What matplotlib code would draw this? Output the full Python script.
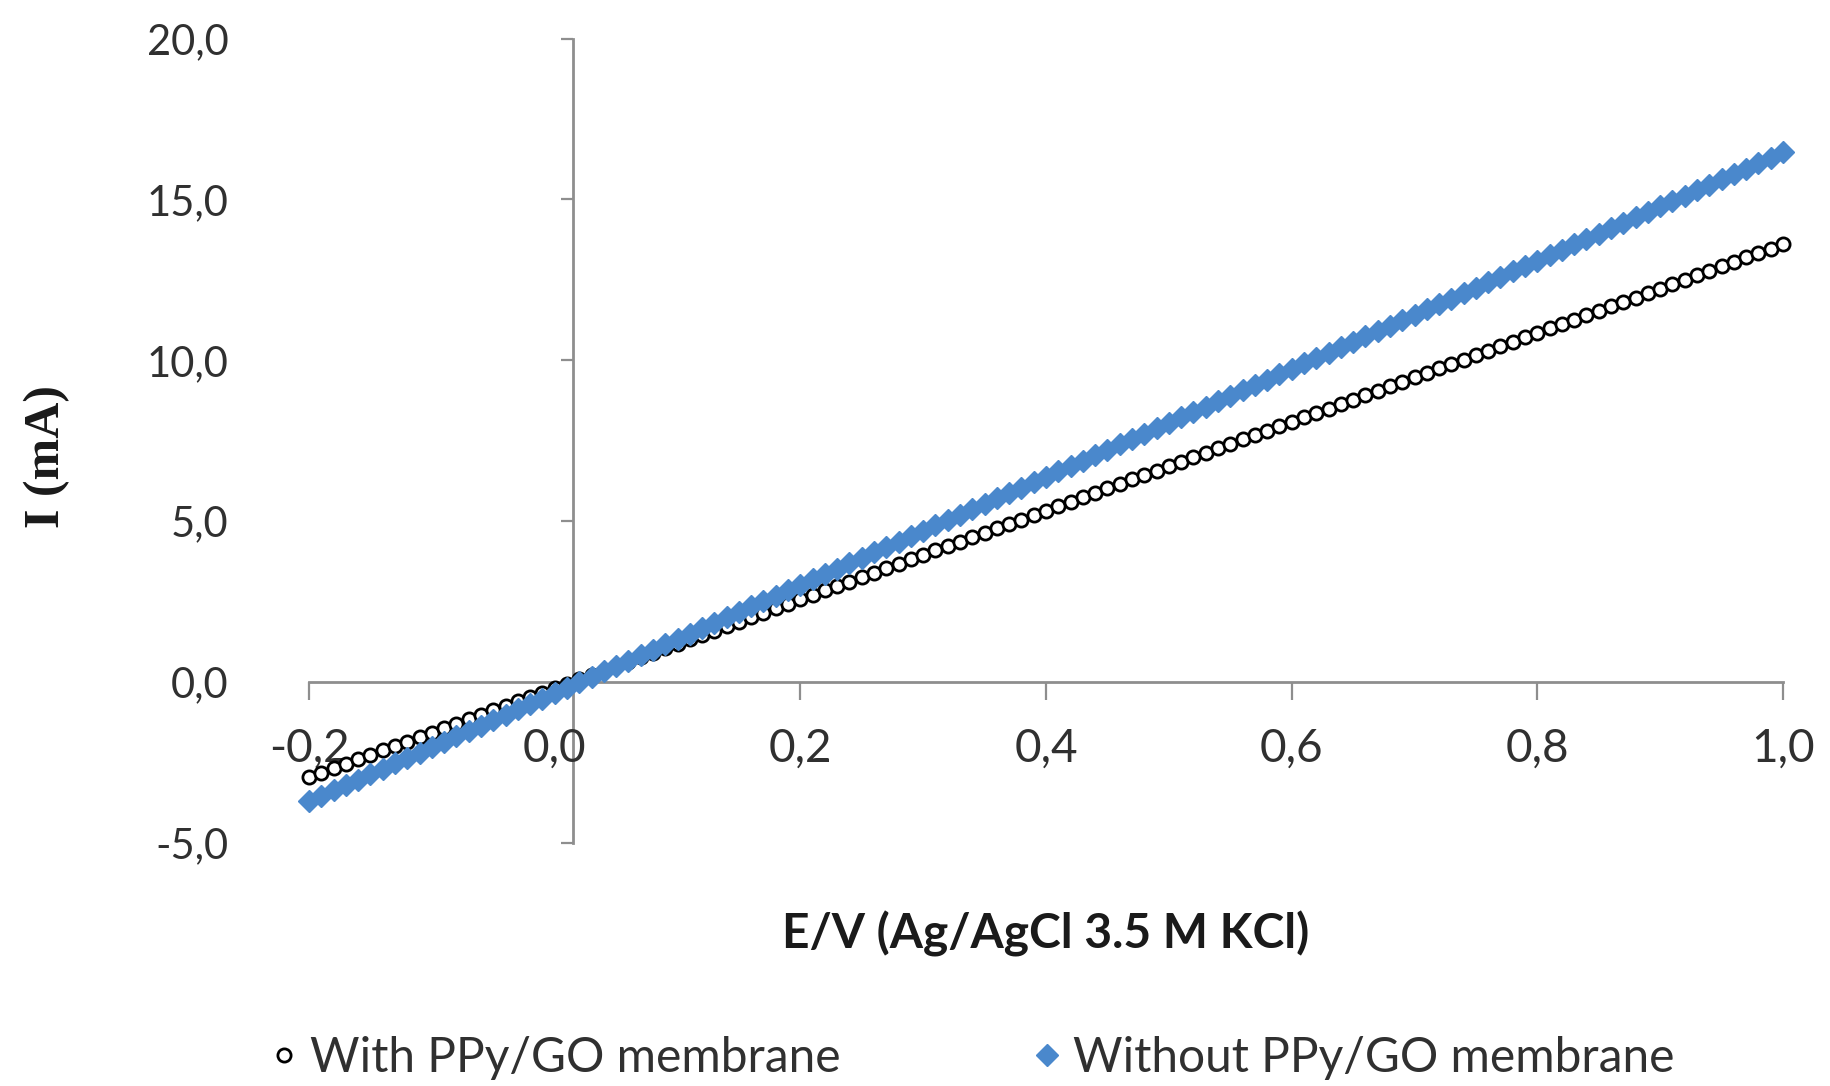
import matplotlib.pyplot as plt
from matplotlib.ticker import FuncFormatter

potential = [
    -0.20, -0.19, -0.18, -0.17, -0.16, -0.15, -0.14, -0.13, -0.12, -0.11,
    -0.10, -0.09, -0.08, -0.07, -0.06, -0.05, -0.04, -0.03, -0.02, -0.01,
    0.00, 0.01, 0.02, 0.03, 0.04, 0.05, 0.06, 0.07, 0.08, 0.09,
    0.10, 0.11, 0.12, 0.13, 0.14, 0.15, 0.16, 0.17, 0.18, 0.19,
    0.20, 0.21, 0.22, 0.23, 0.24, 0.25, 0.26, 0.27, 0.28, 0.29,
    0.30, 0.31, 0.32, 0.33, 0.34, 0.35, 0.36, 0.37, 0.38, 0.39,
    0.40, 0.41, 0.42, 0.43, 0.44, 0.45, 0.46, 0.47, 0.48, 0.49,
    0.50, 0.51, 0.52, 0.53, 0.54, 0.55, 0.56, 0.57, 0.58, 0.59,
    0.60, 0.61, 0.62, 0.63, 0.64, 0.65, 0.66, 0.67, 0.68, 0.69,
    0.70, 0.71, 0.72, 0.73, 0.74, 0.75, 0.76, 0.77, 0.78, 0.79,
    0.80, 0.81, 0.82, 0.83, 0.84, 0.85, 0.86, 0.87, 0.88, 0.89,
    0.90, 0.91, 0.92, 0.93, 0.94, 0.95, 0.96, 0.97, 0.98, 0.99,
    1.00,
]

current_with = [
    -2.95, -2.81, -2.67, -2.54, -2.40, -2.26, -2.12, -1.98, -1.85, -1.71,
    -1.57, -1.43, -1.29, -1.16, -1.02, -0.88, -0.74, -0.60, -0.47, -0.33,
    -0.19, -0.05, 0.09, 0.22, 0.36, 0.50, 0.64, 0.78, 0.91, 1.05,
    1.19, 1.33, 1.47, 1.60, 1.74, 1.88, 2.02, 2.16, 2.29, 2.43,
    2.57, 2.71, 2.85, 2.98, 3.12, 3.26, 3.40, 3.54, 3.67, 3.81,
    3.95, 4.09, 4.23, 4.36, 4.50, 4.64, 4.78, 4.92, 5.05, 5.19,
    5.33, 5.47, 5.61, 5.74, 5.88, 6.02, 6.16, 6.30, 6.43, 6.57,
    6.71, 6.85, 6.99, 7.12, 7.26, 7.40, 7.54, 7.68, 7.81, 7.95,
    8.09, 8.23, 8.37, 8.50, 8.64, 8.78, 8.92, 9.06, 9.19, 9.33,
    9.47, 9.61, 9.75, 9.88, 10.02, 10.16, 10.30, 10.44, 10.57, 10.71,
    10.85, 10.99, 11.13, 11.26, 11.40, 11.54, 11.68, 11.82, 11.95, 12.09,
    12.23, 12.37, 12.51, 12.64, 12.78, 12.92, 13.06, 13.20, 13.33, 13.47,
    13.61,
]

current_without = [
    -3.70, -3.53, -3.36, -3.20, -3.03, -2.86, -2.69, -2.52, -2.36, -2.19,
    -2.02, -1.85, -1.68, -1.52, -1.35, -1.18, -1.01, -0.84, -0.68, -0.51,
    -0.34, -0.17, 0.00, 0.16, 0.33, 0.50, 0.67, 0.84, 1.00, 1.17,
    1.34, 1.51, 1.68, 1.84, 2.01, 2.18, 2.35, 2.52, 2.68, 2.85,
    3.02, 3.19, 3.36, 3.52, 3.69, 3.86, 4.03, 4.20, 4.36, 4.53,
    4.70, 4.87, 5.04, 5.20, 5.37, 5.54, 5.71, 5.88, 6.04, 6.21,
    6.38, 6.55, 6.72, 6.88, 7.05, 7.22, 7.39, 7.56, 7.72, 7.89,
    8.06, 8.23, 8.40, 8.56, 8.73, 8.90, 9.07, 9.24, 9.40, 9.57,
    9.74, 9.91, 10.08, 10.24, 10.41, 10.58, 10.75, 10.92, 11.08, 11.25,
    11.42, 11.59, 11.76, 11.92, 12.09, 12.26, 12.43, 12.60, 12.76, 12.93,
    13.10, 13.27, 13.44, 13.60, 13.77, 13.94, 14.11, 14.28, 14.44, 14.61,
    14.78, 14.95, 15.12, 15.28, 15.45, 15.62, 15.79, 15.96, 16.12, 16.29,
    16.46,
]

x_ticks = [-0.2, 0.0, 0.2, 0.4, 0.6, 0.8, 1.0]
y_ticks = [-5, 0, 5, 10, 15, 20]
y_axis_cross = 0.015  # the vertical axis sits a little right of E = 0 in the original

GRAY = "#8E8E8E"
TEXT = "#303030"
BLUE = "#4A88CC"

plt.rcParams["font.family"] = ["Lato", "DejaVu Sans"]
plt.rcParams["text.color"] = TEXT

fig = plt.figure(figsize=(18.3, 10.86), dpi=100)
ax = fig.add_axes([309 / 1830, 243 / 1086, 1474 / 1830, 804.5 / 1086])

ax.plot(potential, current_with, ls="none", marker="o", ms=9.5, mfc="white",
        mec="black", mew=2.0, clip_on=False, zorder=3,
        label="With PPy/GO membrane")
ax.plot(potential, current_without, ls="none", marker="D", ms=11, color=BLUE,
        mec=BLUE, clip_on=False, zorder=4,
        label="Without PPy/GO membrane")

ax.set_xlim(-0.2, 1.0)
ax.set_ylim(-5, 20)

comma = FuncFormatter(lambda v, _: f"{v:.1f}".replace(".", ","))
ax.set_xticks(x_ticks)
ax.set_yticks(y_ticks)
ax.xaxis.set_major_formatter(comma)
ax.yaxis.set_major_formatter(comma)

for side in ("top", "right", "left"):
    ax.spines[side].set_visible(False)
ax.spines["bottom"].set_position(("data", 0))
ax.spines["bottom"].set_color(GRAY)
ax.spines["bottom"].set_linewidth(2)

ax.tick_params(axis="x", direction="out", length=13, width=1.6, color=GRAY,
               labelsize=33, labelcolor=TEXT, pad=20)
ax.tick_params(axis="y", length=0, labelsize=30, labelcolor=TEXT, pad=58)

# vertical axis line, labels stay on the left edge
yax = ax.secondary_yaxis(y_axis_cross, transform=ax.transData)
yax.set_yticks(y_ticks)
yax.set_yticklabels([])
yax.spines["left"].set_color(GRAY)
yax.spines["left"].set_linewidth(2)
yax.tick_params(axis="y", direction="out", length=9, width=1.6, color=GRAY)

fig.text(1046 / 1830, 1 - 934 / 1086, "E/V (Ag/AgCl 3.5 M KCl)", ha="center",
         va="center", fontsize=34.5, fontweight="bold", color="#1a1a1a")
fig.text(47 / 1830, 1 - 457 / 1086, "I (mA)", ha="center", va="center",
         rotation=90, fontsize=36, fontweight="bold", color="#1a1a1a",
         family=["Liberation Serif", "DejaVu Serif"])

fig.legend(loc="center", bbox_to_anchor=(972 / 1830, 1 - 1058 / 1086), ncol=2,
           frameon=False, fontsize=34.5, handlelength=0.6, handletextpad=0.25,
           columnspacing=4.0, labelcolor=TEXT)

fig.savefig("out.png", dpi=100)
